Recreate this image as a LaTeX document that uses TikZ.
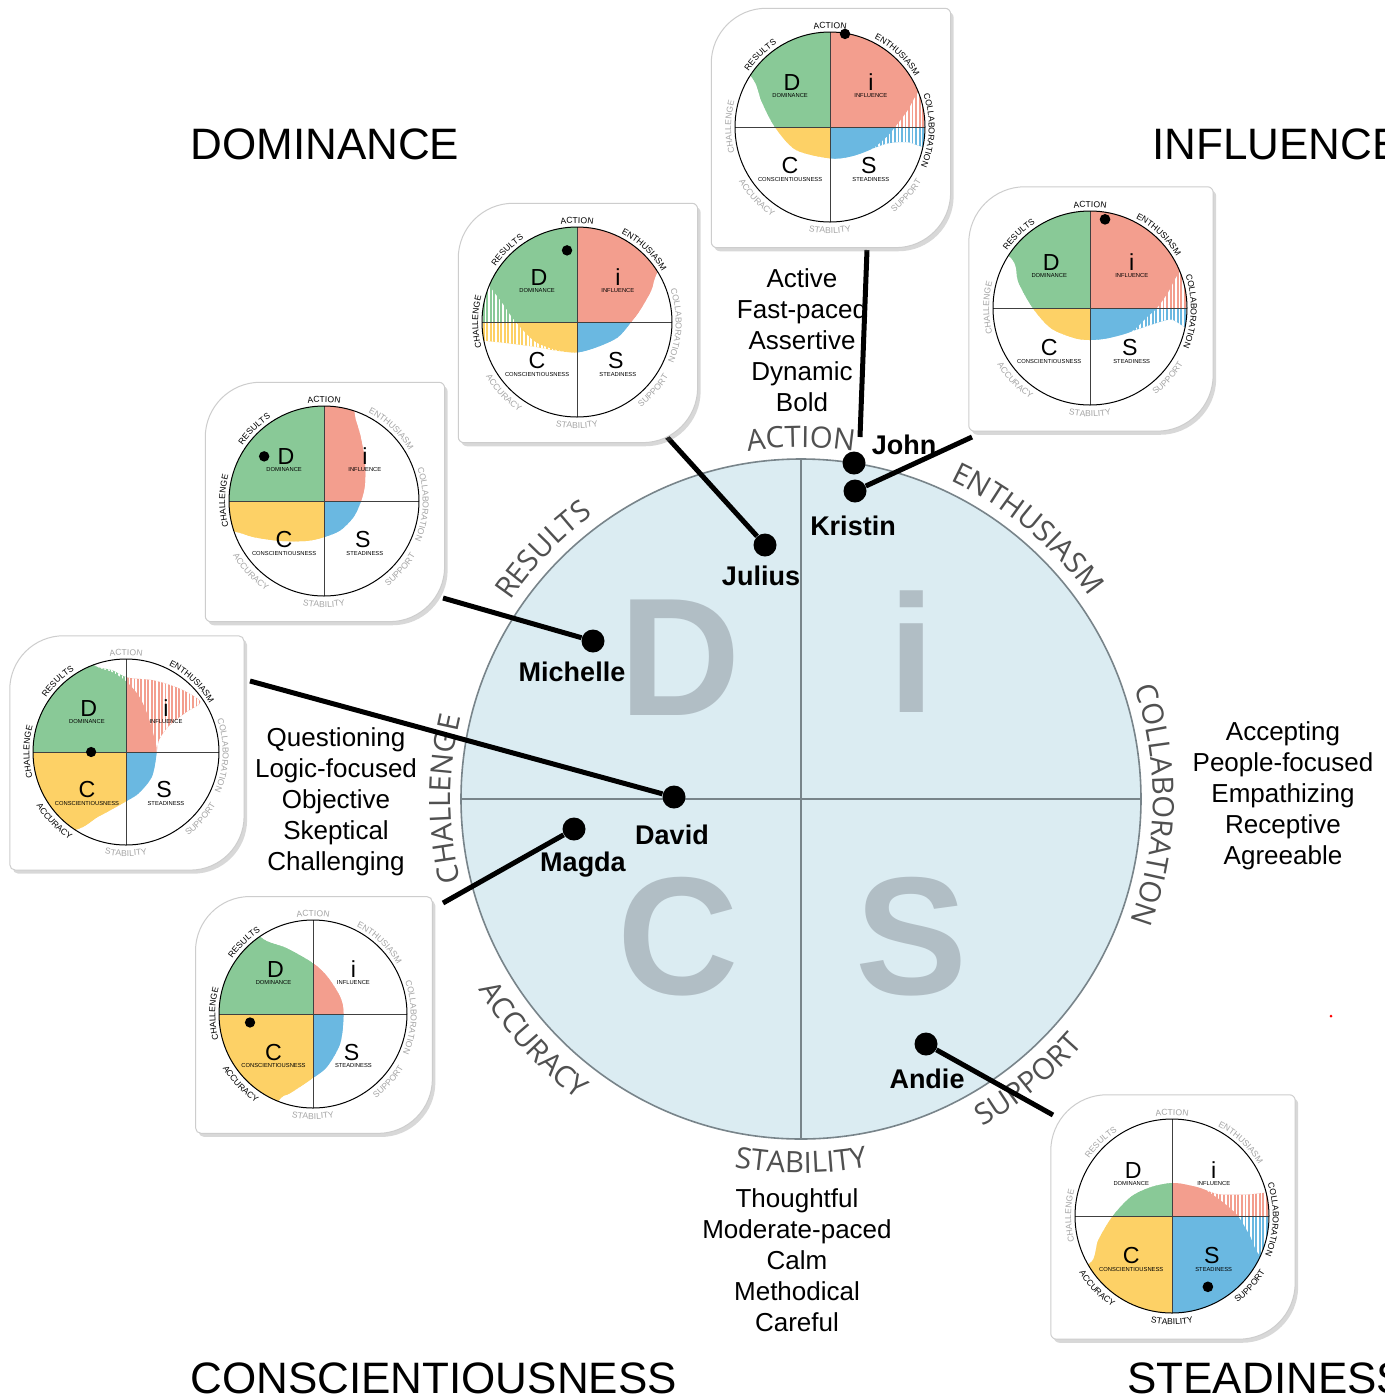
\documentclass[tikz,border=0pt]{standalone}
\usepackage{fontspec}
\setmainfont{Liberation Sans}
\newfontfamily\opensans{Open Sans}
\usetikzlibrary{decorations.text,shadows}
\definecolor{dgreen}{RGB}{137,201,151}
\definecolor{ired}{RGB}{243,158,142}
\definecolor{cyellow}{RGB}{253,209,102}
\definecolor{sblue}{RGB}{106,184,225}
\definecolor{bgblue}{RGB}{219,236,242}
\definecolor{biggray}{RGB}{177,190,197}
\definecolor{labgray}{RGB}{80,80,80}
\definecolor{cgray}{RGB}{165,165,165}
\definecolor{axisgray}{RGB}{120,132,138}
\definecolor{cardedge}{RGB}{205,205,205}
\newcommand\clf{\fontsize{4.3}{5}\selectfont}
\newcommand\mlf{\opensans\fontsize{14.7}{16}\selectfont}
\tikzset{
 bigletter/.style={font=\bfseries\fontsize{84}{84}\selectfont, text=biggray, inner sep=0pt, anchor=base},
 cardletter/.style={font=\fontsize{11.6}{12}\selectfont, inner sep=0pt, anchor=base},
 cardsub/.style={font=\fontsize{2.9}{3}\selectfont, inner sep=0pt, anchor=base},
 pdot/.style={circle, fill=black, inner sep=0pt, minimum size=11.5pt},
 pname/.style={font=\bfseries\fontsize{13.5}{15}\selectfont, inner sep=0pt, anchor=base},
 descr/.style={font=\fontsize{13}{15}\selectfont, inner sep=0pt, anchor=base},
 bigtitle/.style={font=\fontsize{22}{26}\selectfont, inner sep=0pt, anchor=base west},
 conn/.style={line width=2.5pt, black},
 cardshape/.style={fill=white, draw=cardedge, line width=0.5pt, drop shadow={shadow xshift=1.5pt, shadow yshift=-1.8pt, opacity=0.3}},
 cardaxis/.style={line width=0.45pt, draw=black!75},
}
\newcommand\arctop[5]{\path[decorate,decoration={text along path,text={|#3|#5},text align=center,text color=#4}] (#1+50:#2) arc[start angle=#1+50,end angle=#1-50,radius=#2];}
\newcommand\arcbot[5]{\path[decorate,decoration={text along path,text={|#3|#5},text align=center,text color=#4}] (#1-50:#2) arc[start angle=#1-50,end angle=#1+50,radius=#2];}
\newcommand\cardbg{\path[cardshape] (-1.25,0.67) arc[start angle=180,end angle=90,radius=0.58] -- (1.21,1.25) arc[start angle=90,end angle=0,radius=0.06] -- (1.27,-0.69) arc[start angle=0,end angle=-90,radius=0.58] -- (-1.19,-1.27) arc[start angle=270,end angle=180,radius=0.06] -- cycle;}
\newcommand\quads{\fill[dgreen] (-1.1,0) rectangle (0,1.1); \fill[ired] (0,0) rectangle (1.1,1.1); \fill[cyellow] (-1.1,-1.1) rectangle (0,0); \fill[sblue] (0,-1.1) rectangle (1.1,0);}
\newcommand\blobs[2]{%
 \begin{scope}\clip (0,0) circle[radius=1]; \clip plot[smooth cycle] coordinates {#1}; \quads
  \foreach \hx in {-1,-0.963,...,1} \draw[white,line width=0.8pt] (\hx,-1) -- (\hx,1);
 \end{scope}
 \begin{scope}\clip (0,0) circle[radius=1]; \clip plot[smooth cycle] coordinates {#2}; \quads \end{scope}}
\newcommand\cardfront[1]{%
 \draw[cardaxis] (-1,0) -- (1,0) (0,-1) -- (0,1);
 \draw[line width=0.5pt] (0,0) circle[radius=1];
 \node[cardletter] (#1D) at (-0.40,0.386) {D};
 \node[cardletter] (#1I) at (0.43,0.386) {i};
 \node[cardletter] (#1C) at (-0.42,-0.49) {C};
 \node[cardletter] (#1S) at (0.41,-0.49) {S};
 \node[cardsub] (#1d) at (-0.42,0.31) {DOMINANCE};
 \node[cardsub] (#1i) at (0.43,0.31) {INFLUENCE};
 \node[cardsub] (#1c) at (-0.42,-0.57) {CONSCIENTIOUSNESS};
 \node[cardsub] (#1s) at (0.43,-0.57) {STEADINESS};}
% order: ACTION RESULTS CHALLENGE ACCURACY STABILITY SUPPORT COLLABORATION ENTHUSIASM
\newcommand\cardlabels[8]{%
 \arctop{90}{1.04}{\clf}{#1}{ACTION}
 \arctop{134}{1.04}{\clf}{#2}{RESULTS}
 \arctop{180}{1.04}{\clf}{#3}{CHALLENGE}
 \arcbot{224}{1.12}{\clf}{#4}{ACCURACY}
 \arcbot{270}{1.12}{\clf}{#5}{STABILITY}
 \arcbot{318}{1.12}{\clf}{#6}{SUPPORT}
 \arctop{-2}{1.04}{\clf}{#7}{COLLABORATION}
 \arctop{47}{1.04}{\clf}{#8}{ENTHUSIASM}}
\begin{document}
\begin{tikzpicture}[x=0.5pt,y=-0.5pt]
\useasboundingbox (0,0) rectangle (1385,1399);
\fill[white] (0,0) rectangle (1385,1399);
% titles
\node[bigtitle] (tD) at (190,159) {DOMINANCE};
\node[bigtitle] (tI) at (1152,159) {INFLUENCE};
\node[bigtitle] (tC) at (190,1393) {CONSCIENTIOUSNESS};
\node[bigtitle] (tS) at (1127,1393) {STEADINESS};
% descriptors
\foreach \t [count=\i] in {Active,Fast-paced,Assertive,Dynamic,Bold}
  \node[descr] (act\i) at (802,287+31.2*\i-31.2) {\t};
\foreach \t [count=\i] in {Questioning,Logic-focused,Objective,Skeptical,Challenging}
  \node[descr] (que\i) at (336,746+31.2*\i-31.2) {\t};
\foreach \t [count=\i] in {Accepting,People-focused,Empathizing,Receptive,Agreeable}
  \node[descr] (acc\i) at (1283,740+31.2*\i-31.2) {\t};
\foreach \t [count=\i] in {Thoughtful,Moderate-paced,Calm,Methodical,Careful}
  \node[descr] (tho\i) at (797,1207+31.2*\i-31.2) {\t};
% main circle
\begin{scope}[shift={(801,799)},x=170pt,y=170pt]
 \fill[bgblue] (0,0) circle[radius=1];
 \node[bigletter] (bigD) at (-0.356,0.247) {D};
 \node[bigletter] (bigI) at (0.326,0.253) {i};
 \node[bigletter] (bigC) at (-0.362,-0.576) {C};
 \node[bigletter] (bigS) at (0.324,-0.576) {S};
 \draw[axisgray,line width=0.8pt] (-1,0) -- (1,0) (0,-1) -- (0,1);
 \draw[axisgray,line width=0.8pt] (0,0) circle[radius=1];
 \arctop{90}{1.035}{\mlf}{labgray}{ACTION}
 \arctop{136}{1.035}{\mlf}{labgray}{RESULTS}
 \arctop{50}{1.035}{\mlf}{labgray}{ENTHUSIASM}
 \arctop{-1}{1.035}{\mlf}{labgray}{COLLABORATION}
 \arctop{180}{1.03}{\mlf}{labgray}{CHALLENGE}
 \arcbot{222}{1.10}{\mlf}{labgray}{ACCURACY}
 \arcbot{270}{1.10}{\mlf}{labgray}{STABILITY}
 \arcbot{309}{1.10}{\mlf}{labgray}{SUPPORT}
\end{scope}
% people dots
\node[pdot] (john) at (854,463) {};
\node[pdot] (kristin) at (855,491) {};
\node[pdot] (julius) at (765,545) {};
\node[pdot] (michelle) at (593,641) {};
\node[pdot] (david) at (674,797) {};
\node[pdot] (magda) at (574,829) {};
\node[pdot] (andie) at (926,1044) {};
\node[pname] (johnL) at (904,454) {John};
\node[pname] (kristinL) at (853,535) {Kristin};
\node[pname] (juliusL) at (761,585) {Julius};
\node[pname] (michelleL) at (572,681) {Michelle};
\node[pname] (davidL) at (672,844) {David};
\node[pname] (magdaL) at (583,871) {Magda};
\node[pname] (andieL) at (927,1088) {Andie};
% connectors
\coordinate (johnA) at (867,250);
\coordinate (johnB) at (860,437);
\coordinate (kristinA) at (972,437);
\coordinate (juliusA) at (667,437);
\coordinate (michelleA) at (443,598);
\coordinate (davidA) at (250,681);
\coordinate (magdaA) at (443,903);
\coordinate (andieA) at (1053,1115);
\draw[conn] (johnA) -- (johnB);
\draw[conn] (kristinA) -- (kristin);
\draw[conn] (juliusA) -- (julius);
\draw[conn] (michelleA) -- (michelle);
\draw[conn] (davidA) -- (david);
\draw[conn] (magdaA) -- (magda);
\draw[conn] (andieA) -- (andie);
% card 1 John
\begin{scope}[shift={(830,127)},x=47.5pt,y=47.5pt]
 \cardbg
 \blobs{(0,-0.33) (0.22,-0.31) (0.44,-0.23) (0.62,-0.17) (0.82,-0.16) (1.05,-0.2) (1.4,0.1) (1.3,0.8) (0.6,1.4) (-0.6,1.4) (-1.2,0.9) (-0.82,0.52) (-0.72,0.27) (-0.58,0.0) (-0.36,-0.24)}
       {(0,-0.33) (0.22,-0.31) (0.44,-0.23) (0.60,-0.10) (0.70,0.02) (0.82,0.18) (0.95,0.40) (1.3,0.8) (0.6,1.4) (-0.6,1.4) (-1.2,0.9) (-0.82,0.52) (-0.72,0.27) (-0.58,0.0) (-0.36,-0.24)}
 \cardfront{ca}
 \cardlabels{black}{black}{cgray}{cgray}{cgray}{cgray}{black}{black}
 \fill (0.158,0.98) circle[radius=0.055];
\end{scope}
% card 2 Kristin
\begin{scope}[shift={(1090,308)},x=48.5pt,y=48.5pt]
 \cardbg
 \blobs{(0,-0.33) (0.19,-0.31) (0.43,-0.24) (0.64,-0.17) (0.84,-0.12) (1.05,-0.2) (1.4,0.1) (1.3,0.8) (0.6,1.4) (-0.6,1.4) (-1.2,0.9) (-0.80,0.50) (-0.74,0.27) (-0.59,0.0) (-0.40,-0.21) (-0.16,-0.31)}
       {(0,-0.33) (0.19,-0.31) (0.43,-0.24) (0.58,-0.1) (0.69,0.0) (0.81,0.17) (0.93,0.38) (1.3,0.8) (0.6,1.4) (-0.6,1.4) (-1.2,0.9) (-0.80,0.50) (-0.74,0.27) (-0.59,0.0) (-0.40,-0.21) (-0.16,-0.31)}
 \cardfront{cb}
 \cardlabels{black}{black}{cgray}{cgray}{cgray}{cgray}{black}{black}
 \fill (0.155,0.914) circle[radius=0.055];
\end{scope}
% card 3 Julius
\begin{scope}[shift={(577,322)},x=47.5pt,y=47.5pt]
 \cardbg
 \blobs{(0,-0.32) (0.22,-0.26) (0.43,-0.16) (0.57,0) (0.66,0.12) (0.78,0.33) (0.86,0.55) (1.2,1.0) (0.4,1.4) (-0.6,1.4) (-1.2,0.8) (-1.35,0.2) (-1.2,-0.17) (-0.95,-0.2) (-0.76,-0.22) (-0.45,-0.26) (-0.23,-0.30)}
       {(0,-0.32) (0.22,-0.26) (0.43,-0.16) (0.57,0) (0.66,0.12) (0.78,0.33) (0.86,0.55) (1.2,1.0) (0.4,1.4) (-0.6,1.4) (-1.2,0.8) (-0.92,0.38) (-0.80,0.22) (-0.66,0.02) (-0.45,-0.20) (-0.23,-0.29)}
 \cardfront{cc}
 \cardlabels{black}{black}{black}{cgray}{cgray}{cgray}{cgray}{black}
 \fill (-0.105,0.754) circle[radius=0.055];
\end{scope}
% card 4 Michelle
\begin{scope}[shift={(324,501)},x=47.5pt,y=47.5pt]
 \cardbg
 \blobs{(0,-0.38) (0.17,-0.31) (0.31,-0.17) (0.39,0) (0.43,0.17) (0.43,0.42) (0.38,0.70) (0.32,0.93) (0.3,1.4) (-0.8,1.4) (-1.4,0.5) (-1.3,-0.3) (-0.95,-0.32) (-0.74,-0.38) (-0.46,-0.42) (-0.18,-0.42)}
       {(0,-0.38) (0.17,-0.31) (0.31,-0.17) (0.39,0) (0.43,0.17) (0.43,0.42) (0.38,0.70) (0.32,0.93) (0.3,1.4) (-0.8,1.4) (-1.4,0.5) (-1.3,-0.3) (-0.95,-0.32) (-0.74,-0.38) (-0.46,-0.42) (-0.18,-0.42)}
 \cardfront{cd}
 \cardlabels{black}{black}{black}{cgray}{cgray}{cgray}{cgray}{cgray}
 \fill (-0.63,0.47) circle[radius=0.055];
\end{scope}
% card 5 David
\begin{scope}[shift={(126,752)},x=46.5pt,y=46.5pt]
 \cardbg
 \blobs{(0,-0.53) (0.14,-0.44) (0.28,-0.26) (0.33,0) (0.36,0.14) (0.47,0.29) (0.65,0.43) (0.80,0.54) (0.58,0.68) (0.30,0.77) (0.02,0.80) (-0.15,0.88) (-0.36,0.95) (-0.5,1.3) (-1.4,0.5) (-1.4,-0.6) (-0.62,-0.84) (-0.29,-0.69)}
       {(0,-0.53) (0.14,-0.44) (0.28,-0.26) (0.33,0) (0.31,0.13) (0.24,0.38) (0.14,0.6) (0,0.76) (-0.15,0.86) (-0.36,0.95) (-0.5,1.3) (-1.4,0.5) (-1.4,-0.6) (-0.62,-0.84) (-0.29,-0.69)}
 \cardfront{ce}
 \cardlabels{cgray}{black}{black}{black}{cgray}{cgray}{cgray}{black}
 \fill (-0.375,0) circle[radius=0.055];
\end{scope}
% card 6 Magda
\begin{scope}[shift={(313,1014)},x=47pt,y=47pt]
 \cardbg
 \blobs{(0,-0.68) (0.15,-0.56) (0.29,-0.31) (0.325,0) (0.29,0.18) (0.15,0.40) (0,0.54) (-0.28,0.70) (-0.56,0.82) (-0.8,1.2) (-1.4,0.3) (-1.3,-0.6) (-0.6,-1.2) (-0.35,-0.90) (-0.24,-0.84)}
       {(0,-0.68) (0.15,-0.56) (0.29,-0.31) (0.325,0) (0.29,0.18) (0.15,0.40) (0,0.54) (-0.28,0.70) (-0.56,0.82) (-0.8,1.2) (-1.4,0.3) (-1.3,-0.6) (-0.6,-1.2) (-0.35,-0.90) (-0.24,-0.84)}
 \cardfront{cf}
 \cardlabels{cgray}{black}{black}{black}{cgray}{cgray}{cgray}{cgray}
 \fill (-0.67,-0.09) circle[radius=0.055];
\end{scope}
% card 7 Andie
\begin{scope}[shift={(1172,1216)},x=48.5pt,y=48.5pt]
 \cardbg
 \blobs{(-0.61,0) (-0.42,0.2) (-0.21,0.30) (0,0.34) (0.16,0.32) (0.34,0.27) (0.48,0.225) (0.75,0.22) (1.2,0.22) (1.4,-0.2) (1.3,-0.6) (0.8,-1.4) (-0.8,-1.4) (-1.3,-0.6) (-0.85,-0.49) (-0.76,-0.25)}
       {(-0.61,0) (-0.42,0.2) (-0.21,0.30) (0,0.34) (0.16,0.32) (0.34,0.27) (0.54,0.13) (0.68,0) (0.80,-0.2) (0.92,-0.42) (1.3,-0.6) (0.8,-1.4) (-0.8,-1.4) (-1.3,-0.6) (-0.85,-0.49) (-0.76,-0.25)}
 \cardfront{cg}
 \cardlabels{cgray}{cgray}{cgray}{black}{black}{black}{black}{cgray}
 \fill (0.37,-0.73) circle[radius=0.055];
\end{scope}
% stray mark
\fill[red] (1331,1016) circle[radius=1.5];
\end{tikzpicture}
\end{document}
